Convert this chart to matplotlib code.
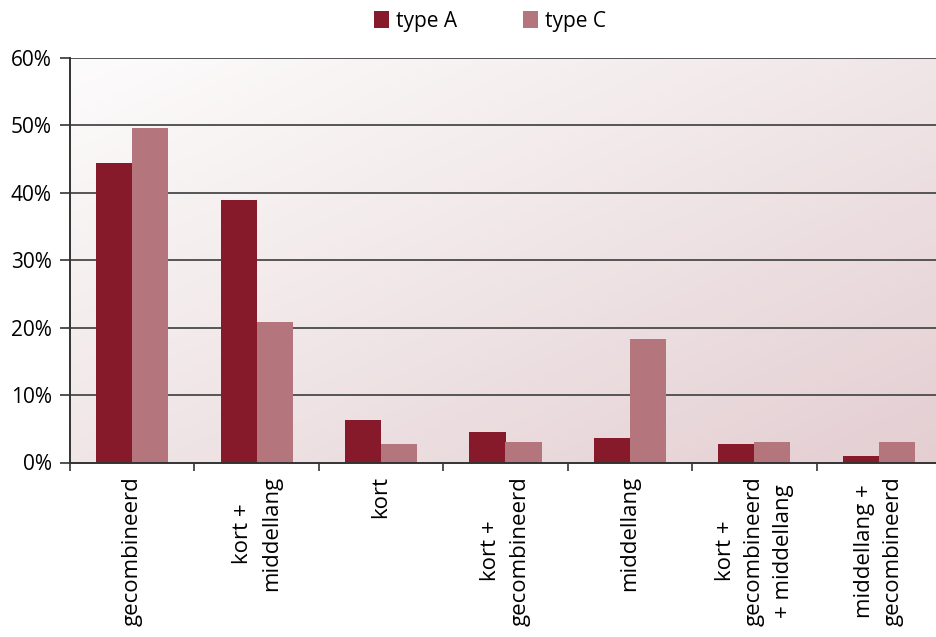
import numpy as np
import matplotlib
matplotlib.use("Agg")
import matplotlib.pyplot as plt
from matplotlib.patches import Patch
from matplotlib.colors import LinearSegmentedColormap

# ---- data ----
categories = [
    "gecombineerd",
    "kort +\nmiddellang",
    "kort",
    "kort +\ngecombineerd",
    "middellang",
    "kort +\ngecombineerd\n+ middellang",
    "middellang +\ngecombineerd",
]
type_a = [44.3, 38.9, 6.3, 4.5, 3.6, 2.7, 1.0]
type_c = [49.6, 20.8, 2.7, 3.0, 18.3, 3.0, 3.0]
series_names = ["type A", "type C"]
y_ticks = [0, 10, 20, 30, 40, 50, 60]

COL_A = "#861a2a"
COL_C = "#b5757c"

plt.rcParams["font.family"] = ["Open Sans", "DejaVu Sans"]

fig = plt.figure(figsize=(9.36, 6.37), dpi=100)
ax = fig.add_axes([70 / 936, (637 - 462.5) / 637, (941 - 70) / 936, 405 / 637])

# diagonal background gradient: light top-left, pink bottom-right
gx, gy = np.meshgrid(np.linspace(0, 1, 300), np.linspace(0, 1, 200))
grad = (gx + gy) / 2
cmap = LinearSegmentedColormap.from_list("bg", ["#fdfcfc", "#f0e6e7", "#e4ced2"])
ax.imshow(grad, cmap=cmap, extent=[0, 1, 0, 1], transform=ax.transAxes,
          aspect="auto", origin="upper", zorder=0)

x = np.arange(len(categories))
w = 0.29
ax.bar(x - w / 2, type_a, width=w, color=COL_A, zorder=3)
ax.bar(x + w / 2, type_c, width=w, color=COL_C, zorder=3)

ax.set_xlim(-0.5, len(categories) - 0.5)
ax.set_ylim(0, 60)
ax.set_yticks(y_ticks)
ax.set_yticklabels([f"{t}%" for t in y_ticks])
for t in y_ticks[1:]:
    ax.axhline(t, color="#555555", linewidth=1.4, zorder=2)

# category boundaries carry the x ticks, labels sit at the centres
ax.set_xticks(np.arange(len(categories) + 1) - 0.5)
ax.set_xticklabels([])
ax.tick_params(axis="x", direction="out", length=6, width=1.2, color="#333333")
ax.tick_params(axis="y", direction="out", length=7, width=1.2, color="#333333",
               pad=6, labelsize=15)
for i, lab in enumerate(categories):
    ax.text(i, -2.0, lab, rotation=90, ha="center", va="top",
            multialignment="center", linespacing=1.5, fontsize=16,
            transform=ax.transData, clip_on=False)

for s in ["top", "right"]:
    ax.spines[s].set_visible(False)
for s in ["left", "bottom"]:
    ax.spines[s].set_color("#333333")
    ax.spines[s].set_linewidth(1.4)
    ax.spines[s].set_zorder(4)

handles = [Patch(facecolor=COL_A), Patch(facecolor=COL_C)]
fig.legend(handles, series_names, loc="center", bbox_to_anchor=(490 / 936, 1 - 21 / 637),
           ncol=2, frameon=False, fontsize=15, handlelength=0.72, handleheight=0.9,
           handletextpad=0.3, columnspacing=3.2)

fig.savefig("out.png", dpi=100)
